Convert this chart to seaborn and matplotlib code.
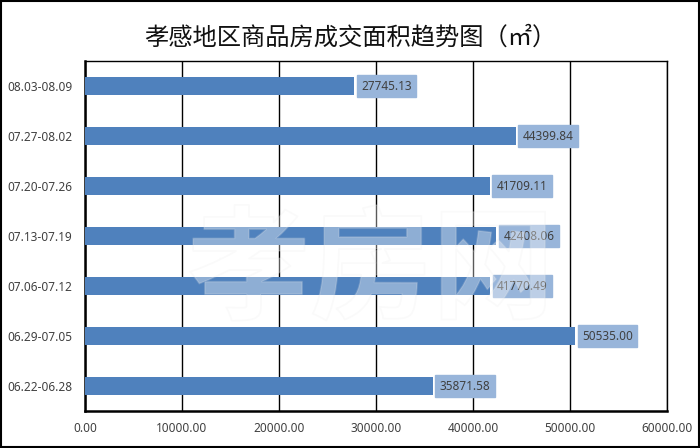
import matplotlib
matplotlib.use("Agg")
import matplotlib.pyplot as plt
import matplotlib.patheffects as pe
import seaborn as sns
import pandas as pd

title = "孝感地区商品房成交面积趋势图（㎡）"
weeks = ["08.03-08.09", "07.27-08.02", "07.20-07.26", "07.13-07.19",
         "07.06-07.12", "06.29-07.05", "06.22-06.28"]
areas = [27745.13, 44399.84, 41709.11, 42408.06, 41770.49, 50535.00, 35871.58]
xticks = [0, 10000, 20000, 30000, 40000, 50000, 60000]

df = pd.DataFrame({"week": weeks, "area": areas})

sns.set_theme(style="white")
plt.rcParams['font.family'] = ['Liberation Sans Narrow', 'Noto Sans', 'DejaVu Sans']

fig = plt.figure(figsize=(7, 4.48), dpi=100)
ax = fig.add_axes([85/700, 37/448, 582/700, 350/448])

sns.barplot(data=df, x="area", y="week", orient="h", color="#4F81BD",
            saturation=1, width=0.36, linewidth=0, edgecolor="none", ax=ax, zorder=3)

ax.set_xlim(0, 60000)
ax.set_xticks(xticks)
ax.set_xticklabels([f"{v:.2f}" for v in xticks], fontsize=8.5, color="#404040")
ax.tick_params(axis="x", pad=8, length=0)
ax.tick_params(axis="y", length=0, pad=9, labelsize=8.5, labelcolor="#404040")
ax.set_xlabel("")
ax.set_ylabel("")
ax.grid(axis="x", color="black", linewidth=1.0, zorder=0)
ax.set_axisbelow(True)
for s in ax.spines.values():
    s.set_color("black")
    s.set_linewidth(1.0)
ax.spines["left"].set_linewidth(1.8)
ax.spines["bottom"].set_linewidth(1.8)

wm = fig.text(0.53, 0.39, "孝房网", ha="center", va="center", fontsize=88,
              family=["Noto Sans CJK SC"], fontweight="bold", color="white",
              alpha=0.2, zorder=4)
wm.set_path_effects([pe.withStroke(linewidth=1.2, foreground="#e6e6e6")])

for i, v in enumerate(areas):
    ax.annotate(f"{v:.2f}", xy=(v, i), xytext=(5, 0), textcoords="offset points",
                va="center", ha="left", fontsize=8.5, color="#404040", zorder=5,
                bbox=dict(boxstyle="square,pad=0.38", fc="#98B5DA", ec="#98B5DA"))

fig.text(0.5, 0.917, title, ha="center", va="center", fontsize=17.5,
         family=["Noto Sans CJK SC", "DejaVu Sans"], color="#111111")

fig.patches.append(plt.Rectangle((0.001, 0.002), 0.997, 0.996, transform=fig.transFigure,
                                 fill=False, ec="black", lw=1.5))

fig.savefig("out.png", dpi=100)
